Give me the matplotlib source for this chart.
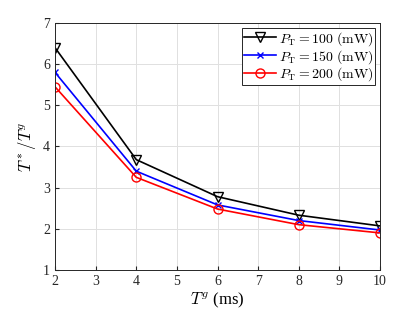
import matplotlib
matplotlib.use('Agg')
import matplotlib.pyplot as plt

plt.rcParams['font.family'] = ['Liberation Serif', 'DejaVu Serif']
plt.rcParams['mathtext.fontset'] = 'cm'

# data
tg = [2, 4, 6, 8, 10]
p100 = [6.40, 3.68, 2.78, 2.33, 2.07]
p150 = [5.80, 3.40, 2.58, 2.20, 1.97]
p200 = [5.45, 3.25, 2.48, 2.10, 1.90]

fig = plt.figure(figsize=(4.2, 3.15), dpi=100)
ax = fig.add_axes([0.131, 0.143, 0.774, 0.784])

ax.plot(tg, p100, color='black', marker='v', mfc='none', ms=6.5, lw=1.2,
        label=r'$P_{\rm T}=100\ \mathrm{(mW)}$')
ax.plot(tg, p150, color='blue', marker='x', ms=5, lw=1.2,
        label=r'$P_{\rm T}=150\ \mathrm{(mW)}$')
ax.plot(tg, p200, color='red', marker='o', mfc='none', ms=6.5, lw=1.2,
        label=r'$P_{\rm T}=200\ \mathrm{(mW)}$')

ax.set_xlim(2, 10)
ax.set_ylim(1, 7)
ax.set_xticks(range(2, 11))
ax.set_yticks(range(1, 8))
ax.grid(True, color='#e0e0e0', lw=0.7)
ax.set_axisbelow(True)
ax.tick_params(direction='in', labelsize=10, length=3, colors='#262626')
for s in ax.spines.values():
    s.set_color('#262626')
    s.set_linewidth(0.7)

ax.set_xlabel(r'$T^g$ (ms)', fontsize=12, labelpad=2)
ax.set_ylabel(r'$T^*/T^g$', fontsize=12, labelpad=4)

leg = ax.legend(loc='upper right', fontsize=10, fancybox=False, framealpha=1,
                edgecolor='#262626', borderpad=0.15, labelspacing=0.0,
                handlelength=2.3, handletextpad=0.2, borderaxespad=0.35)
leg.get_frame().set_linewidth(0.7)

fig.savefig('out.png', dpi=100)
